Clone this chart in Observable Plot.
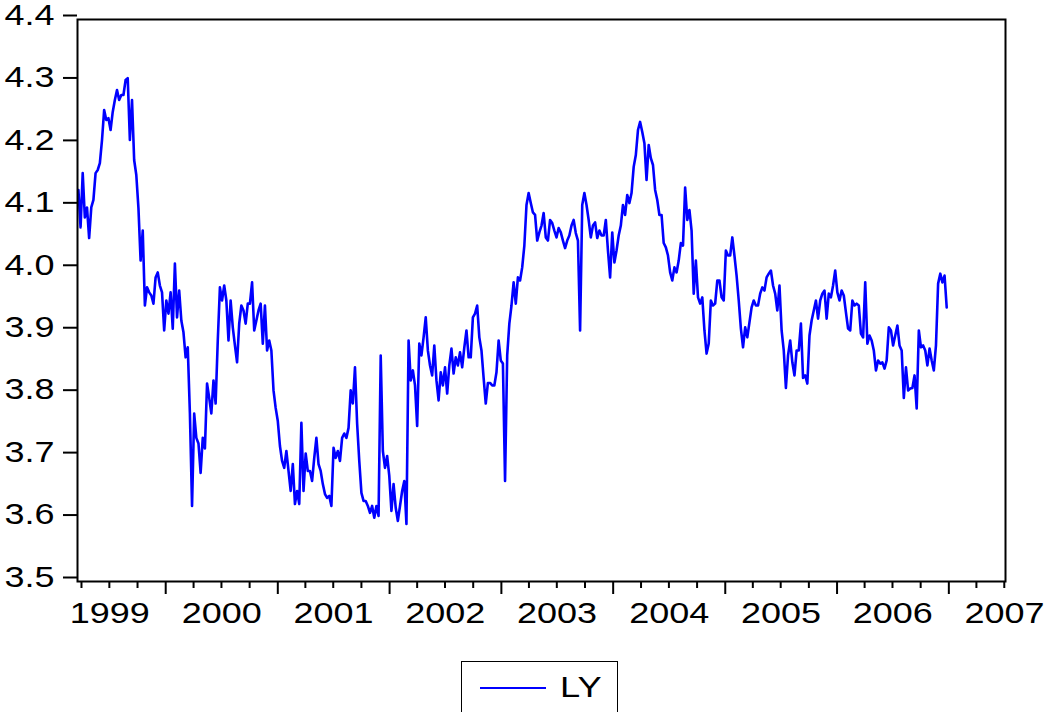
<!DOCTYPE html>
<html>
<head>
<meta charset="utf-8">
<script src="https://cdn.jsdelivr.net/npm/d3@7"></script>
<script src="https://cdn.jsdelivr.net/npm/@observablehq/plot@0.6"></script>
<style>
  html, body { margin: 0; padding: 0; background: #fff; }
  #wrap { position: relative; width: 1046px; height: 712px; overflow: hidden; font-family: "Liberation Sans", Arial, sans-serif; }
  #chart { position: absolute; left: 0; top: 0; }
  #legend { position: absolute; left: 461px; top: 661px; width: 155px; height: 70px; border: 1.5px solid #000; background: #fff; }
  #legend .swatch { position: absolute; left: 18px; top: 25px; width: 66px; height: 0; border-top: 2px solid #0000ff; }
  #legend .label { position: absolute; left: 98px; top: 11px; font-size: 29px; line-height: 29px; transform: scaleX(1.25); transform-origin: left center; color: #000; }
</style>
</head>
<body>
<div id="wrap">
  <div id="chart"></div>
  <div id="legend"><div class="swatch"></div><div class="label">LY</div></div>
</div>
<script>
// Weekly observations of LY, first week starting 1999-03-22
const seriesStart = "1999-03-22";
const ly = [
  4.127, 4.067, 4.154, 4.083, 4.099, 4.050, 4.099, 4.111, 4.154, 4.159,
  4.170, 4.207, 4.255, 4.239, 4.242, 4.223, 4.252, 4.271, 4.287, 4.271,
  4.279, 4.279, 4.303, 4.306, 4.207, 4.271, 4.175, 4.151, 4.098, 4.014,
  4.062, 3.942, 3.971, 3.963, 3.958, 3.945, 3.987, 3.995, 3.974, 3.963,
  3.902, 3.950, 3.929, 3.963, 3.905, 4.009, 3.923, 3.966, 3.918, 3.899,
  3.859, 3.875, 3.769, 3.621, 3.769, 3.730, 3.721, 3.674, 3.730, 3.713,
  3.817, 3.794, 3.769, 3.822, 3.785, 3.886, 3.971, 3.950, 3.974, 3.950,
  3.886, 3.950, 3.907, 3.878, 3.851, 3.913, 3.942, 3.934, 3.913, 3.945,
  3.945, 3.979, 3.902, 3.918, 3.934, 3.945, 3.881, 3.942, 3.870, 3.886,
  3.870, 3.806, 3.778, 3.757, 3.717, 3.693, 3.682, 3.709, 3.677, 3.645,
  3.688, 3.624, 3.645, 3.624, 3.754, 3.645, 3.705, 3.677, 3.677, 3.661,
  3.698, 3.730, 3.688, 3.677, 3.656, 3.640, 3.634, 3.637, 3.621, 3.714,
  3.698, 3.709, 3.693, 3.730, 3.737, 3.730, 3.746, 3.806, 3.785, 3.843,
  3.753, 3.693, 3.642, 3.629, 3.629, 3.621, 3.610, 3.621, 3.602, 3.621,
  3.605, 3.862, 3.709, 3.682, 3.701, 3.669, 3.613, 3.656, 3.618, 3.597,
  3.621, 3.645, 3.661, 3.592, 3.886, 3.822, 3.838, 3.814, 3.749, 3.881,
  3.862, 3.891, 3.923, 3.870, 3.846, 3.830, 3.878, 3.822, 3.790, 3.835,
  3.814, 3.843, 3.801, 3.846, 3.873, 3.833, 3.859, 3.846, 3.867, 3.843,
  3.875, 3.902, 3.859, 3.859, 3.923, 3.929, 3.942, 3.891, 3.870, 3.826,
  3.785, 3.818, 3.818, 3.814, 3.814, 3.835, 3.886, 3.854, 3.849, 3.661,
  3.862, 3.913, 3.942, 3.979, 3.945, 3.987, 3.982, 4.003, 4.038, 4.103,
  4.122, 4.106, 4.091, 4.087, 4.046, 4.059, 4.070, 4.090, 4.051, 4.046,
  4.079, 4.074, 4.062, 4.051, 4.066, 4.059, 4.046, 4.034, 4.046, 4.054,
  4.070, 4.079, 4.058, 4.046, 3.902, 4.103, 4.122, 4.103, 4.079, 4.051,
  4.070, 4.075, 4.050, 4.062, 4.054, 4.054, 4.079, 4.030, 3.987, 4.059,
  4.011, 4.030, 4.054, 4.070, 4.103, 4.087, 4.119, 4.106, 4.122, 4.164,
  4.183, 4.223, 4.236, 4.220, 4.202, 4.143, 4.199, 4.178, 4.167, 4.127,
  4.111, 4.087, 4.087, 4.042, 4.035, 4.022, 3.995, 3.982, 4.003, 3.995,
  4.014, 4.042, 4.038, 4.131, 4.079, 4.095, 4.062, 3.961, 4.014, 3.955,
  3.945, 3.955, 3.902, 3.865, 3.881, 3.950, 3.942, 3.945, 3.982, 3.982,
  3.955, 3.950, 4.030, 4.022, 4.022, 4.051, 4.022, 3.990, 3.950, 3.905,
  3.875, 3.907, 3.891, 3.915, 3.939, 3.950, 3.942, 3.942, 3.961, 3.971,
  3.966, 3.987, 3.993, 3.998, 3.974, 3.961, 3.934, 3.974, 3.902, 3.870,
  3.810, 3.862, 3.886, 3.851, 3.830, 3.870, 3.870, 3.913, 3.826, 3.830,
  3.817, 3.894, 3.918, 3.934, 3.950, 3.921, 3.950, 3.961, 3.966, 3.921,
  3.961, 3.955, 3.974, 3.998, 3.963, 3.950, 3.966, 3.958, 3.931, 3.905,
  3.902, 3.950, 3.942, 3.945, 3.942, 3.897, 3.891, 3.979, 3.881, 3.894,
  3.886, 3.870, 3.838, 3.854, 3.849, 3.851, 3.841, 3.854, 3.907, 3.902,
  3.878, 3.894, 3.910, 3.878, 3.870, 3.794, 3.843, 3.806, 3.809, 3.810,
  3.830, 3.777, 3.902, 3.875, 3.878, 3.870, 3.846, 3.873, 3.854, 3.838,
  3.878, 3.977, 3.993, 3.979, 3.990, 3.939
];

// Axis ticks and labels
const yTicks = [3.5, 3.6, 3.7, 3.8, 3.9, 4.0, 4.1, 4.2, 4.3, 4.4];
const yearLabels = [1999, 2000, 2001, 2002, 2003, 2004, 2005, 2006, 2007];
const yearBreaks = [2000, 2001, 2002, 2003, 2004, 2005, 2006, 2007];

const DAY = 864e5;
const t0 = new Date(seriesStart + "T00:00:00Z").getTime();
const data = ly.map((v, i) => ({date: new Date(t0 + i * 7 * DAY), ly: v}));

const utc = (y, m, d) => new Date(Date.UTC(y, m, d));
const majorTicks = yearBreaks.map(y => utc(y, 0, 1));
const minorTicks = [];
for (let y = 1999; y <= 2007; y++) {
  for (const m of [3, 6, 9]) {
    const d = utc(y, m, 1);
    if (d >= utc(1999, 2, 19) && d <= utc(2007, 6, 5)) minorTicks.push(d);
  }
}
const labelDates = yearLabels.map(y => utc(y, 6, 2));

const chart = Plot.plot({
  width: 1046,
  height: 650,
  marginLeft: 77,
  marginRight: 41,
  marginTop: 19,
  marginBottom: 69,
  style: {fontFamily: "'Liberation Sans', Arial, sans-serif", fontSize: "29px", color: "#000", background: "#fff", overflow: "visible"},
  x: {type: "utc", domain: [utc(1999, 2, 19), utc(2007, 6, 5)]},
  y: {domain: [3.5, 4.4]},
  marks: [
    Plot.lineY(data, {x: "date", y: "ly", stroke: "#0000ff", strokeWidth: 2.6, strokeLinejoin: "round"}),
    Plot.axisY(yTicks, {tickSize: 14, tickPadding: 9, strokeWidth: 2, stroke: "#000", fill: "#000",
      tickFormat: d => d.toFixed(1), fontSize: 29, dy: -4, label: null}),
    Plot.axisX(majorTicks, {tickSize: 13, strokeWidth: 2, stroke: "#000", tickFormat: () => "", label: null}),
    Plot.axisX(minorTicks, {tickSize: 7, strokeWidth: 2, stroke: "#000", tickFormat: () => "", label: null}),
    Plot.axisX(labelDates, {tickSize: 0, tickPadding: 21, fill: "#000", fontSize: 29,
      tickFormat: d => String(d.getUTCFullYear()), label: null}),
    Plot.frame({stroke: "#000", strokeWidth: 2})
  ]
});

document.getElementById("chart").appendChild(chart);

// Widen the tick-label glyphs horizontally
chart.querySelectorAll('g[aria-label="y-axis tick label"] text, g[aria-label="x-axis tick label"] text').forEach(t => {
  const w = t.getComputedTextLength();
  if (w > 0) {
    t.setAttribute("textLength", (w * 1.24).toFixed(1));
    t.setAttribute("lengthAdjust", "spacingAndGlyphs");
  }
});
</script>
</body>
</html>
